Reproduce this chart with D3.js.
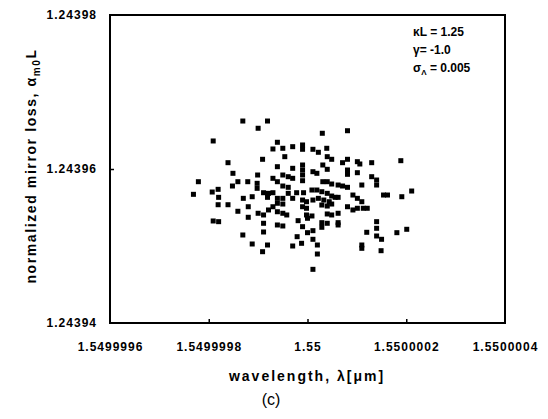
<!DOCTYPE html>
<html><head><meta charset="utf-8">
<script src="https://cdn.jsdelivr.net/npm/d3@7"></script>
<style>
html,body{margin:0;padding:0;background:#fff;}
svg text{font-family:"Liberation Sans",Arial,Helvetica,sans-serif;}
</style></head>
<body>
<svg id="chart" width="548" height="419"></svg>
<script>
// ---- data ----
const xTicks = [1.5499996, 1.5499998, 1.55, 1.5500002, 1.5500004];
const xTickLabels = ["1.5499996", "1.5499998", "1.55", "1.5500002", "1.5500004"];
const yTicks = [1.24394, 1.24396, 1.24398];
const yTickLabels = ["1.24394", "1.24396", "1.24398"];

const wavelength = [
1.549999869,1.549999919,1.549999900,1.549999809,1.549999939,1.549999930,1.549999909,1.549999839,
1.549999939,1.549999849,1.549999899,1.549999930,1.549999779,1.549999859,1.549999879,1.549999898,
1.549999939,1.549999848,1.549999898,1.549999819,1.549999807,1.549999769,1.549999911,1.549999921,
1.549999820,1.549999870,1.549999888,1.549999919,1.549999819,1.549999839,1.549999880,1.549999859,
1.549999921,1.549999900,1.549999911,1.549999809,1.549999820,1.549999880,1.549999911,1.549999911,
1.549999869,1.549999888,1.549999919,1.549999909,
1.550000030,1.550000081,1.549999950,1.549999970,1.549999990,1.549999990,1.550000011,1.550000022,
1.550000039,1.549999954,1.550000040,1.550000049,1.550000071,1.550000081,1.550000101,1.550000130,
1.550000189,1.550000106,1.549999970,1.549999990,1.549999990,1.549999990,1.549999990,1.550000031,
1.550000040,1.550000011,1.550000019,1.550000081,1.550000081,1.550000101,1.549999950,1.549999961,
1.549999970,1.550000130,1.550000140,1.550000140,1.550000031,1.550000040,1.550000049,1.550000062,
1.550000071,1.550000081,1.550000110,1.549999950,1.549999961,1.550000009,1.550000019,1.550000029,
1.549999930,1.549999961,1.549999978,1.549999992,1.550000040,1.550000049,1.550000092,1.550000154,
1.550000162,1.550000191,1.550000211,1.549999939,1.549999950,1.549999970,1.549999990,1.549999998,
1.550000011,1.550000022,1.550000033,1.550000044,1.550000056,1.550000062,1.550000101,1.550000110,
1.549999939,1.549999950,1.549999930,1.549999990,1.549999998,1.550000029,1.550000040,1.550000049,
1.550000081,1.550000092,1.550000101,1.550000113,1.550000121,1.549999939,1.549999950,1.549999958,
1.549999998,1.550000009,1.550000040,1.550000049,1.550000062,1.549999981,1.550000000,1.550000029,
1.550000040,1.550000062,1.549999939,1.549999950,1.549999990,1.550000029,1.550000062,1.550000140,
1.550000140,1.550000120,1.550000181,1.550000201,1.550000140,1.550000150,1.550000011,1.550000000,
1.549999979,1.550000011,1.549999988,1.550000020,1.549999970,1.550000110,1.550000110,1.550000149,
1.550000020,1.550000011
];
const mirrorLoss = [
1.24396623,1.24396623,1.24396529,1.24396364,1.24396347,1.24396260,1.24396126,1.24396082,
1.24396030,1.24395944,1.24395922,1.24395879,1.24395835,1.24395835,1.24395835,1.24395814,
1.24395835,1.24395779,1.24395749,1.24395736,1.24395701,1.24395671,1.24395692,1.24395684,
1.24395632,1.24395619,1.24395640,1.24395632,1.24395536,1.24395536,1.24395510,1.24395451,
1.24395468,1.24395425,1.24395403,1.24395325,1.24395316,1.24395373,1.24395295,1.24395182,
1.24395143,1.24395026,1.24395013,1.24394926,
1.24396464,1.24396497,1.24396269,1.24396290,1.24396312,1.24396256,1.24396256,1.24396217,
1.24396269,1.24396160,1.24396160,1.24396126,1.24396082,1.24396126,1.24396095,1.24396082,
1.24396108,1.24396065,1.24396009,1.24396052,1.24395987,1.24395922,1.24395848,1.24396052,
1.24395996,1.24395965,1.24395944,1.24395987,1.24395931,1.24395952,1.24395922,1.24395900,
1.24395879,1.24395900,1.24395857,1.24395792,1.24395835,1.24395835,1.24395805,1.24395792,
1.24395779,1.24395762,1.24395792,1.24395779,1.24395762,1.24395727,1.24395727,1.24395705,
1.24395692,1.24395684,1.24395692,1.24395692,1.24395684,1.24395649,1.24395662,1.24395662,
1.24395662,1.24395640,1.24395714,1.24395619,1.24395619,1.24395619,1.24395597,1.24395575,
1.24395597,1.24395619,1.24395597,1.24395575,1.24395632,1.24395632,1.24395619,1.24395575,
1.24395555,1.24395545,1.24395510,1.24395510,1.24395490,1.24395532,1.24395519,1.24395545,
1.24395510,1.24395468,1.24395490,1.24395490,1.24395490,1.24395445,1.24395425,1.24395403,
1.24395403,1.24395390,1.24395416,1.24395403,1.24395425,1.24395329,1.24395360,1.24395303,
1.24395295,1.24395303,1.24395273,1.24395260,1.24395251,1.24395243,1.24395273,1.24395316,
1.24395230,1.24395178,1.24395173,1.24395217,1.24395130,1.24395087,1.24395199,1.24395173,
1.24395121,1.24395087,1.24395035,1.24395013,1.24395000,1.24395013,1.24394970,1.24394939,
1.24394896,1.24394697
];

// ---- layout ----
const svg = d3.select("#chart");
const L = 110, R = 505, T = 15, B = 323;
const x = d3.scaleLinear().domain([xTicks[0], xTicks[xTicks.length-1]]).range([L, R]);
const y = d3.scaleLinear().domain([yTicks[0], yTicks[yTicks.length-1]]).range([B, T]);

// x axis
const gx = svg.append("g").attr("transform", `translate(0,${B})`)
  .call(d3.axisBottom(x).tickValues(xTicks)
    .tickFormat((d,i) => xTickLabels[i]).tickSize(-4).tickPadding(19));
gx.select(".domain").remove();
gx.selectAll(".tick line").attr("stroke", "#000").attr("stroke-width", 1.5)
  .attr("opacity", (d,i) => (i === 0 || i === xTicks.length-1) ? 0 : 1);
gx.selectAll(".tick text").attr("fill", "#000").attr("font-size", 12)
  .attr("font-weight", "bold").attr("letter-spacing", 1)
  .attr("font-family", "Liberation Sans, Arial, sans-serif");

// y axis
const gy = svg.append("g").attr("transform", `translate(${L},0)`)
  .call(d3.axisLeft(y).tickValues(yTicks)
    .tickFormat((d,i) => yTickLabels[i]).tickSize(-4).tickPadding(13));
gy.select(".domain").remove();
gy.selectAll(".tick line").attr("stroke", "#000").attr("stroke-width", 1.5)
  .attr("opacity", (d,i) => (i === 0 || i === yTicks.length-1) ? 0 : 1);
gy.selectAll(".tick text").attr("fill", "#000").attr("font-size", 12)
  .attr("font-weight", "bold").attr("letter-spacing", 1)
  .attr("font-family", "Liberation Sans, Arial, sans-serif");

// frame
svg.append("rect").attr("x", L).attr("y", T).attr("width", R - L).attr("height", B - T)
  .attr("fill", "none").attr("stroke", "#000").attr("stroke-width", 2);

// points
const pts = wavelength.map((w, i) => ({w, a: mirrorLoss[i]}));
svg.append("g").selectAll("rect").data(pts).join("rect")
  .attr("x", d => x(d.w) - 2.5).attr("y", d => y(d.a) - 2.5)
  .attr("width", 5).attr("height", 5).attr("fill", "#000");

// annotations
const ann = svg.append("g").attr("font-size", 12).attr("font-weight", "bold").attr("fill", "#000");
const t1 = ann.append("text").attr("x", 413).attr("y", 36);
t1.append("tspan").text("κL = 1.25");
const t2 = ann.append("text").attr("x", 413).attr("y", 54);
t2.append("tspan").text("γ= -1.0");
const t3 = ann.append("text").attr("x", 413).attr("y", 72);
t3.append("tspan").text("σ");
t3.append("tspan").attr("font-size", 8).attr("dy", 3).text("Λ");
t3.append("tspan").attr("dy", -3).text(" = 0.005");

// axis titles
svg.append("text").attr("x", 307).attr("y", 381).attr("text-anchor", "middle")
  .attr("font-size", 14).attr("font-weight", "bold").attr("letter-spacing", 2)
  .text("wavelength, λ[μm]");

const yt = svg.append("text").attr("transform", "translate(36,166) rotate(-90)")
  .attr("text-anchor", "middle").attr("font-size", 14).attr("font-weight", "bold")
  .attr("letter-spacing", 1.6);
yt.append("tspan").text("normalized mirror loss, α");
yt.append("tspan").attr("font-size", 10).attr("dy", 4).text("m0");
yt.append("tspan").attr("dy", -4).text("L");

svg.append("text").attr("x", 271).attr("y", 405).attr("text-anchor", "middle")
  .attr("font-size", 16).attr("font-family", "Liberation Serif, 'Times New Roman', serif")
  .text("(c)");
</script>
</body></html>
